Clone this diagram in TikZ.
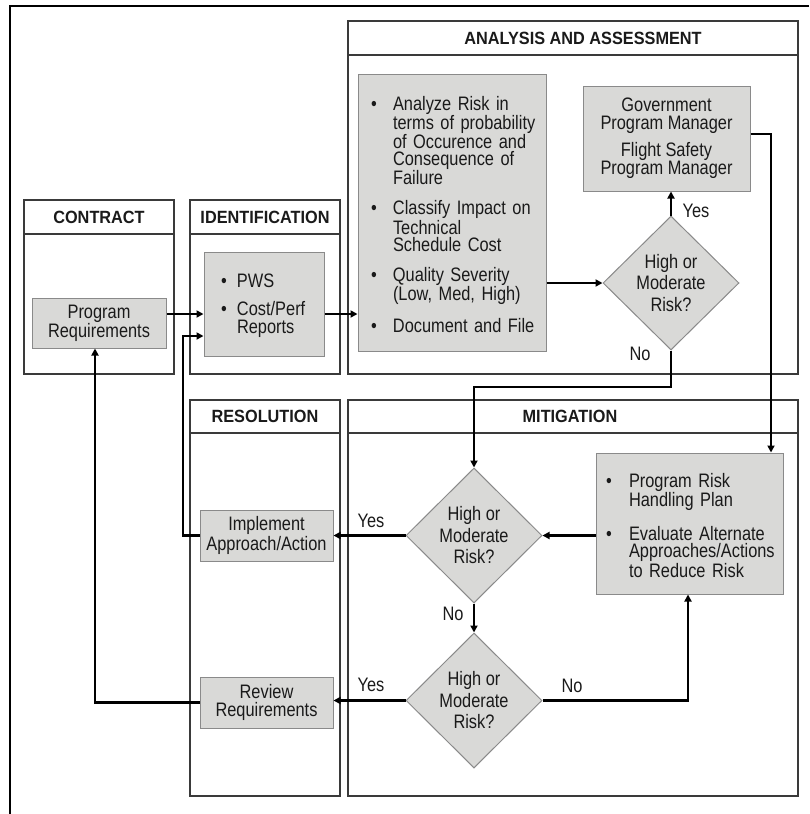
\documentclass[tikz,border=0pt]{standalone}
\usepackage{fontspec}
\setmainfont{Liberation Sans}[FakeStretch=0.84]
\newfontfamily\hfont{Liberation Sans}[FakeStretch=0.92]
\usetikzlibrary{arrows.meta,shapes.geometric}
\definecolor{boxfill}{HTML}{D9D9D7}
\definecolor{boxline}{HTML}{8A8A8A}
\definecolor{panelline}{HTML}{3A3A3A}
\definecolor{txt}{HTML}{1A1A1A}
\newcommand{\bodyfont}{\fontsize{19.5}{17.4}\selectfont}
\newcommand{\bitem}[3]{\par\hangindent=#1\relax\hangafter=1\noindent\makebox[#1][l]{\hspace{#2}\textbullet}#3}
\tikzset{
  box/.style={draw=boxline, fill=boxfill, line width=1pt, inner sep=0pt, font=\bodyfont, text=txt},
  dia/.style={diamond, draw=boxline, fill=boxfill, line width=1pt, minimum width=136pt, minimum height=134pt, inner sep=0pt, align=center, text=txt, font=\fontsize{19.5}{21.5}\selectfont},
  head/.style={font=\hfont\bfseries\fontsize{17.7}{18}\selectfont, inner sep=0pt, text=txt},
  panel/.style={draw=panelline, line width=1.2pt},
  arr/.style={line width=2.2pt, -{Triangle[length=7pt,width=7pt]}},
  lbl/.style={font=\bodyfont, inner sep=0pt, text=txt}
}
\begin{document}
\begin{tikzpicture}[x=1pt,y=-1pt]
\useasboundingbox (0,0) rectangle (809,814);
\fill[white] (0,0) rectangle (809,814);
% outer frame
\draw[line width=2.5pt] (809,6) -- (10,6) -- (10,814);
% panels
\draw[panel] (24,200) rectangle (174,374) (24,234) -- (174,234);
\draw[panel] (190,200) rectangle (340,374) (190,234) -- (340,234);
\draw[panel] (348,21) rectangle (798,374) (348,55) -- (798,55);
\draw[panel] (190,400) rectangle (340,796) (190,433) -- (340,433);
\draw[panel] (348,400) rectangle (798,796) (348,433) -- (798,433);
\node[head] (hcontract) at (99,217) {CONTRACT};
\node[head] (hident) at (265,217) {IDENTIFICATION};
\node[head] (hanal) at (583,38) {ANALYSIS AND ASSESSMENT};
\node[head] (hres) at (265,416.5) {RESOLUTION};
\node[head] (hmit) at (570,416.5) {MITIGATION};
% boxes
\node[box, minimum width=134pt, minimum height=50pt, align=center] (progreq) at (99,323) {Program\\Requirements};
\node[box, text width=110pt, inner xsep=5pt, minimum height=104pt, align=left] (pws) at (264,304)
  {\bitem{28pt}{12pt}{PWS}\par\vskip10.6pt\bitem{28pt}{12pt}{Cost/Perf\newline Reports}\par};
\node[box, text width=170pt, inner xsep=9pt, minimum height=277pt, align=left] (anal) at (452,212.5)
  {\bitem{26pt}{4pt}{Analyze Risk in\newline terms of probability\newline of Occurence and\newline Consequence of\newline Failure}\par\vskip12.5pt
   \bitem{26pt}{4pt}{Classify Impact on\newline Technical\newline Schedule Cost}\par\vskip12.5pt
   \bitem{26pt}{4pt}{Quality Severity\newline (Low, Med, High)}\par\vskip12.5pt
   \bitem{26pt}{4pt}{Document and File}\par};
\node[box, minimum width=167pt, minimum height=105pt, align=center] (gov) at (666.5,138.5)
  {Government\\Program Manager\\[8pt]Flight Safety\\Program Manager};
\node[box, text width=177pt, inner xsep=5pt, minimum height=141pt, align=left] (mit) at (689.5,523.5)
  {\bitem{28pt}{5pt}{Program Risk\newline Handling Plan}\par\vskip15pt
   \bitem{28pt}{5pt}{Evaluate Alternate\newline Approaches/Actions\newline to Reduce Risk}\par};
\node[box, minimum width=133pt, minimum height=51pt, align=center] (impl) at (266.5,535.5) {Implement\\Approach/Action};
\node[box, minimum width=133pt, minimum height=51pt, align=center] (review) at (266.5,702.5) {Review\\Requirements};
% diamonds
\node[dia] (d1) at (671,283) {High or\\Moderate\\Risk?};
\node[dia, minimum height=135pt] (d2) at (474,535.5) {High or\\Moderate\\Risk?};
\node[dia, minimum height=135pt] (d3) at (474,700.5) {High or\\Moderate\\Risk?};
% helper coordinates
\coordinate (y314) at (0,314);
\coordinate (y336) at (0,336);
\coordinate (y134) at (0,134);
\coordinate (y387) at (0,387);
\coordinate (x183) at (183,0);
\coordinate (x95) at (95,0);
\coordinate (x771) at (771,0);
\coordinate (x688) at (688,0);
% connectors
\draw[arr] (progreq.east |- y314) -- (pws.west |- y314);
\draw[arr] (pws.east |- y314) -- (anal.west |- y314);
\draw[arr] (anal.east |- d1) -- (d1.west);
\draw[arr] (d1.north) -- (d1.north |- gov.south);
\draw[arr] (d1.south) -- (d1.south |- y387) -| (d2.north);
\draw[arr] (gov.east |- y134) -| (mit.north -| x771);
\draw[arr] (mit.west |- d2) -- (d2.east);
\draw[arr] (d2.west) -- (impl.east);
\draw[arr] (d2.south) -- (d3.north);
\draw[arr] (d3.west) -- (review.east |- d3);
\draw[arr] (d3.east) -| (mit.south -| x688);
\draw[arr] (impl.west) -| (x183 |- y336) -- (pws.west |- y336);
\draw[arr] (review.west) -| (progreq.south -| x95);
% labels
\node[lbl] (l1) at (696,211) {Yes};
\node[lbl] (l2) at (640,354) {No};
\node[lbl] (l3) at (371,521) {Yes};
\node[lbl] (l4) at (453,614) {No};
\node[lbl] (l5) at (371,685) {Yes};
\node[lbl] (l6) at (572,686) {No};
\end{tikzpicture}
\end{document}
